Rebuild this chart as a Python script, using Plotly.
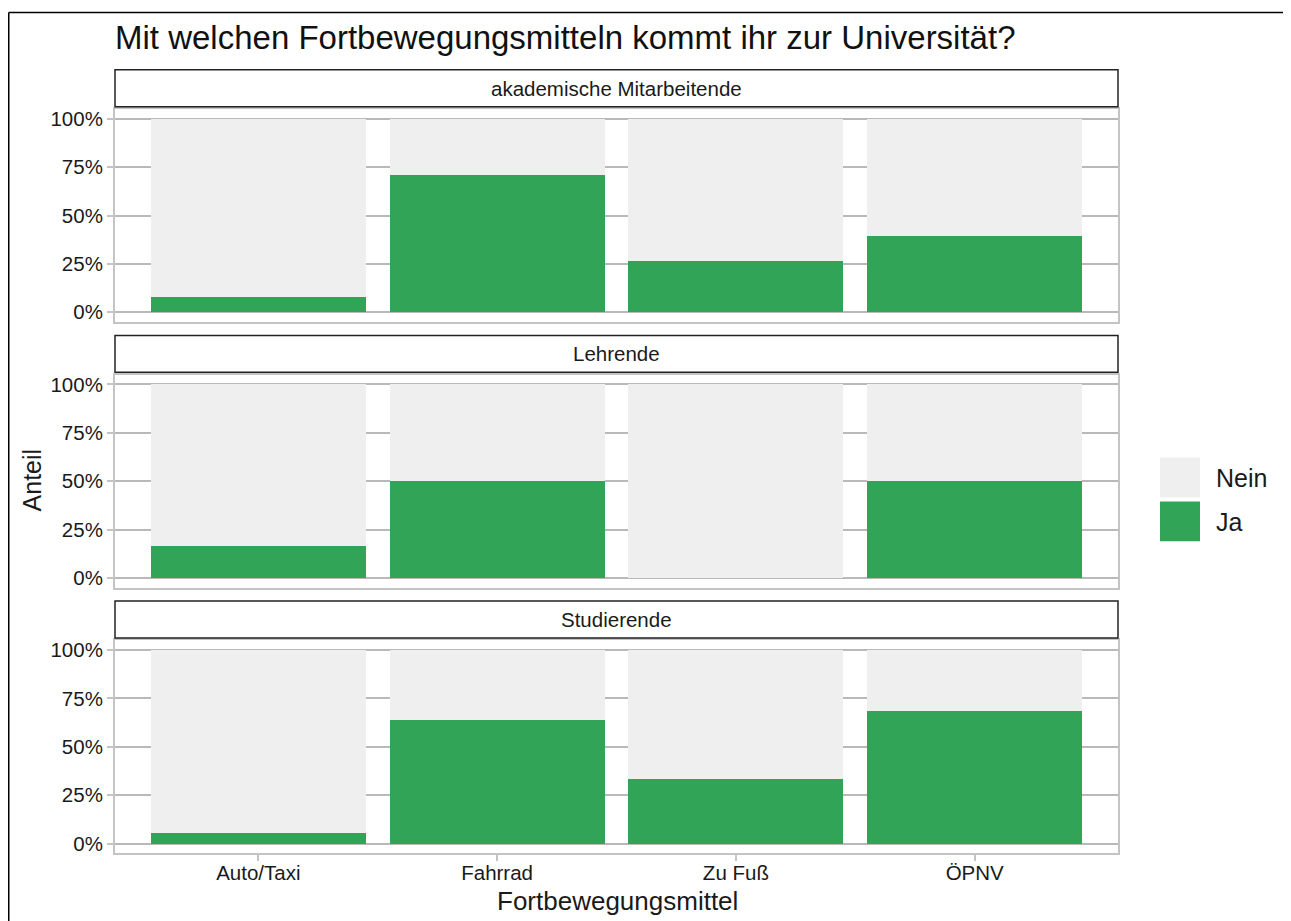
import plotly.graph_objects as go

W, H = 1291, 921
OFF = 8  # page margin around the figure
FW, FH = W - OFF, H - OFF

# ---------------- DATA ----------------
modes = ["Auto/Taxi", "Fahrrad", "Zu Fuß", "ÖPNV"]
groups = ["akademische Mitarbeitende", "Lehrende", "Studierende"]
ja_akademisch = [0.079, 0.711, 0.263, 0.395]
ja_lehrende = [0.167, 0.5, 0.0, 0.5]
ja_studierende = [0.055, 0.638, 0.332, 0.683]
ja_values = [ja_akademisch, ja_lehrende, ja_studierende]
y_ticks = [0, 0.25, 0.5, 0.75, 1.0]
y_ticklabels = ["0%", "25%", "50%", "75%", "100%"]

GREEN = "#32a457"
LIGHT = "#efefef"
GRID = "#b9b9b9"
FONT = "Liberation Sans, Arial, sans-serif"


# screen pixel -> paper coords
def px(x):
    return (x - OFF) / FW


def py(y):
    return 1 - (y - OFF) / FH


# panel geometry in screen pixels
x_left, x_right = 115, 1118
panel_tops = [107.5, 374.0, 640.5]
panel_h = 213.5

fig = go.Figure()

for i, vals in enumerate(ja_values):
    n = "" if i == 0 else str(i + 1)
    nein = [1 - v for v in vals]
    fig.add_trace(go.Bar(
        x=modes, y=vals, name="Ja", marker=dict(color=GREEN, line=dict(width=0)),
        width=0.9, xaxis="x" + n, yaxis="y" + n, showlegend=False,
        hovertemplate="%{x}<br>Ja: %{y:.0%}<extra></extra>"
    ))
    fig.add_trace(go.Bar(
        x=modes, y=nein, name="Nein", marker=dict(color=LIGHT, line=dict(width=0)),
        width=0.9, xaxis="x" + n, yaxis="y" + n, showlegend=False,
        hovertemplate="%{x}<br>Nein: %{y:.0%}<extra></extra>"
    ))

    top = panel_tops[i]
    bottom = top + panel_h
    last = i == len(ja_values) - 1
    fig.update_layout({
        "xaxis" + n: dict(
            domain=[px(x_left), px(x_right)], anchor="y" + n,
            range=[-0.6, 3.6], categoryorder="array", categoryarray=modes,
            showgrid=False, showline=True, linecolor="#c4c4c4", linewidth=2, mirror=True,
            ticks="outside" if last else "", ticklen=6, tickwidth=1.5, tickcolor="#c4c4c4",
            showticklabels=last, tickfont=dict(size=20.5, color="#1a1a1a"),
            ticklabelstandoff=-6,
            zeroline=False, fixedrange=True,
        ),
        "yaxis" + n: dict(
            domain=[py(bottom), py(top)], anchor="x" + n,
            range=[-0.05, 1.05], tickvals=y_ticks, ticktext=y_ticklabels,
            showgrid=True, gridcolor=GRID, gridwidth=2,
            showline=True, linecolor="#c4c4c4", linewidth=2, mirror=True,
            ticks="outside", ticklen=6, tickwidth=1.5, tickcolor="#c4c4c4",
            tickfont=dict(size=20.5, color="#1a1a1a"), zeroline=False, fixedrange=True,
        ),
    })

    # facet strip
    fig.add_shape(type="rect", xref="paper", yref="paper",
                  x0=px(x_left), x1=px(x_right), y0=py(top - 2.5), y1=py(top - 39.5),
                  fillcolor="white", line=dict(color="#222222", width=1.5), layer="above")
    fig.add_annotation(x=px((x_left + x_right) / 2), y=py(top - 21), xref="paper", yref="paper",
                       text=groups[i], showarrow=False, xanchor="center", yanchor="middle",
                       font=dict(size=20.5, color="#1a1a1a", family=FONT))

# legend drawn as boxes
legend_items = [("Nein", LIGHT, 457), ("Ja", GREEN, 501)]
for label, color, y0 in legend_items:
    fig.add_shape(type="rect", xref="paper", yref="paper",
                  x0=px(1160), x1=px(1200), y0=py(y0), y1=py(y0 + 40),
                  fillcolor=color, line=dict(width=0))
    fig.add_annotation(x=px(1214), y=py(y0 + 21), xref="paper", yref="paper",
                       text=label, showarrow=False, xanchor="left", yanchor="middle",
                       font=dict(size=25, color="#1a1a1a", family=FONT))

# axis titles
fig.add_annotation(x=px(617), y=py(902), xref="paper", yref="paper",
                   text="Fortbewegungsmittel", showarrow=False,
                   xanchor="center", yanchor="middle",
                   font=dict(size=26, color="#1a1a1a", family=FONT))
fig.add_annotation(x=px(32), y=py(480), xref="paper", yref="paper",
                   text="Anteil", showarrow=False, textangle=-90,
                   xanchor="center", yanchor="middle",
                   font=dict(size=25, color="#1a1a1a", family=FONT))

# outer frame (top and left edges)
fig.add_shape(type="line", xref="paper", yref="paper",
              x0=px(8.75), x1=px(W + 20), y0=py(10.5), y1=py(10.5),
              line=dict(color="black", width=1.5))
fig.add_shape(type="line", xref="paper", yref="paper",
              x0=px(8.75), x1=px(8.75), y0=py(10.5), y1=py(H + 20),
              line=dict(color="black", width=1.5))

fig.update_layout(
    title=dict(text="Mit welchen Fortbewegungsmitteln kommt ihr zur Universität?",
               x=px(115), xanchor="left", xref="paper", y=py(35.5), yanchor="middle",
               yref="paper",
               font=dict(size=33, color="#111111", family=FONT)),
    barmode="stack",
    bargap=0.1,
    width=FW, height=FH,
    margin=dict(l=0, r=0, t=0, b=0),
    paper_bgcolor="white",
    plot_bgcolor="white",
    font=dict(family=FONT, color="#1a1a1a"),
    showlegend=False,
)

fig.write_html("out.html")
